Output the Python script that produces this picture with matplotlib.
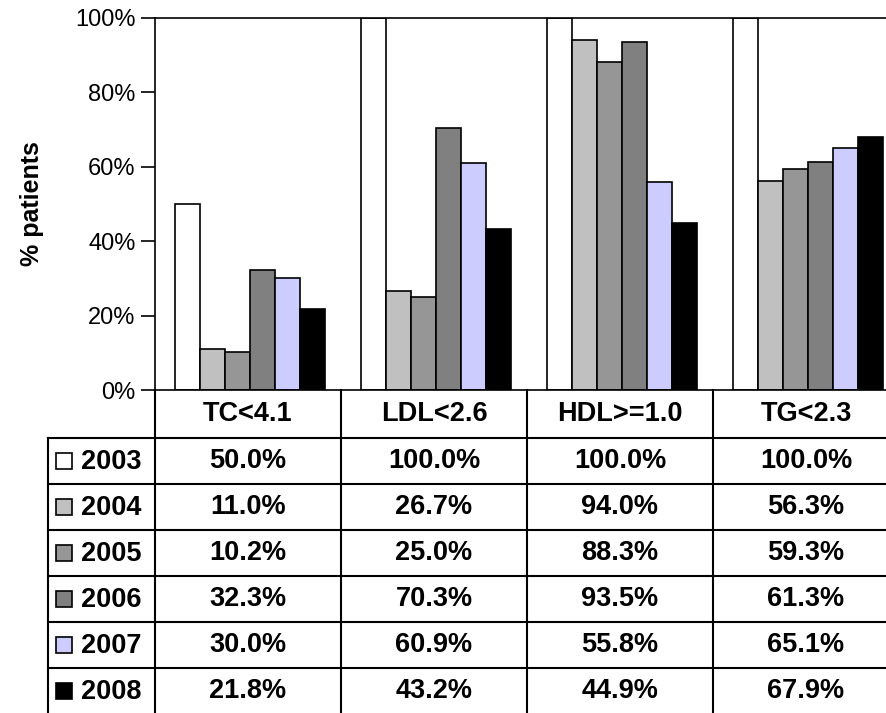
import matplotlib
matplotlib.use("Agg")
import matplotlib.pyplot as plt
from matplotlib.lines import Line2D
from matplotlib.patches import Rectangle

categories = ["TC<4.1", "LDL<2.6", "HDL>=1.0", "TG<2.3"]
years = ["2003", "2004", "2005", "2006", "2007", "2008"]
values = [
    [50.0, 100.0, 100.0, 100.0],
    [11.0, 26.7, 94.0, 56.3],
    [10.2, 25.0, 88.3, 59.3],
    [32.3, 70.3, 93.5, 61.3],
    [30.0, 60.9, 55.8, 65.1],
    [21.8, 43.2, 44.9, 67.9],
]
colors = ["#ffffff", "#c0c0c0", "#969696", "#808080", "#ccccff", "#000000"]

plt.rcParams['font.family'] = ['Liberation Sans', 'DejaVu Sans']
W, H = 886, 713
fig = plt.figure(figsize=(W/100, H/100), dpi=100)

def fx(px): return px / W
def fy(py): return 1 - py / H

L, R, T, B = 155, 899, 18, 390
ax = fig.add_axes([fx(L), fy(B), fx(R) - fx(L), fy(T) - fy(B)])
bw = 25 / 186
for i, (yr, vals) in enumerate(zip(years, values)):
    xs = [c + (20 + 25 * i + 12.5) / 186 for c in range(len(categories))]
    ax.bar(xs, vals, width=bw, color=colors[i], edgecolor="black", linewidth=1.2, zorder=2)
ax.set_xlim(0, len(categories))
ax.set_ylim(0, 100)
ax.set_yticks([0, 20, 40, 60, 80, 100])
ax.set_yticklabels([f"{t}%" for t in [0, 20, 40, 60, 80, 100]], fontsize=17)
ax.set_xticks([])
ax.spines['right'].set_visible(False)
for s in ['left', 'top', 'bottom']:
    ax.spines[s].set_linewidth(1.2)
ax.tick_params(axis='y', length=10, width=1.2, pad=4, direction='out')
ax.set_ylabel("% patients", fontsize=18, fontweight='bold', labelpad=22)

# table
colx = [155 + 186 * k for k in range(5)]
rowy = [390, 438, 484, 530, 576, 622, 668, 714]
def line(x0, y0, x1, y1, lw=1.5):
    fig.add_artist(Line2D([fx(x0), fx(x1)], [fy(y0), fy(y1)], color="black", lw=lw))
for y in rowy[1:-1]:
    line(48, y, W, y)
line(48, rowy[1], 48, rowy[-1])
for x in colx:
    line(x, 390, x, rowy[-1])
FS = 19.5
for j, c in enumerate(categories):
    fig.text(fx((colx[j] + colx[j+1]) / 2), fy((rowy[0] + rowy[1]) / 2), c,
             ha='center', va='center', fontsize=FS, fontweight='bold')
for i, yr in enumerate(years):
    yc = (rowy[i+1] + rowy[i+2]) / 2
    fig.add_artist(Rectangle((fx(56), fy(yc + 8)), fx(16), fy(0) - fy(16),
                             facecolor=colors[i], edgecolor='black', lw=1.2))
    fig.text(fx(81), fy(yc + 1), yr, ha='left', va='center', fontsize=FS, fontweight='bold')
    for j in range(len(categories)):
        fig.text(fx((colx[j] + colx[j+1]) / 2), fy(yc), f"{values[i][j]:.1f}%",
                 ha='center', va='center', fontsize=FS, fontweight='bold')

fig.savefig("out.png", dpi=100)
